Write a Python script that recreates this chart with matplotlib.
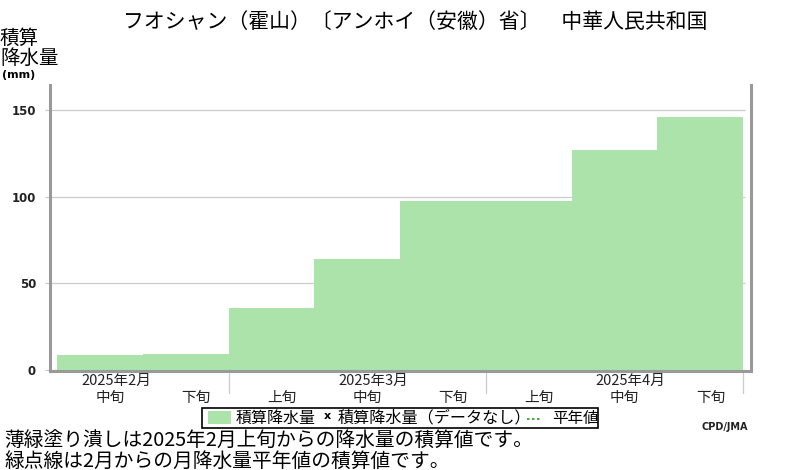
import matplotlib
matplotlib.use('Agg')
import matplotlib.pyplot as plt
import matplotlib.transforms as mtransforms
from matplotlib.patches import Rectangle
from matplotlib.lines import Line2D

plt.rcParams['font.family'] = ['Noto Sans CJK JP', 'DejaVu Sans']

# accumulated precipitation per dekad (mm)
dekads = ['中旬', '下旬', '上旬', '中旬', '下旬', '上旬', '中旬', '下旬']
months = ['2025年2月', '2025年3月', '2025年4月']
month_pos = [0, 3, 6]          # dekad index under which the month label sits
month_bounds = [2, 5, 8]
accum = [8.6, 9.4, 35.8, 64.0, 97.5, 97.6, 126.9, 145.9]
yticks = [0, 50, 100, 150]

W, H = 800, 470
fig = plt.figure(figsize=(W / 100, H / 100), dpi=100)

def fx(px):
    return px / W

def fy(py):
    return 1 - py / H

ax = fig.add_axes([fx(50), fy(371), fx(751) - fx(50), fy(85) - fy(371)])
ax.bar(range(len(accum)), accum, width=1.0, align='edge', color='#abe3aa', zorder=2)
ax.set_xlim(-0.082, 8.093)
ax.set_ylim(-0.6, 164.4)

gray = '#999999'
for s in ['left', 'bottom', 'right']:
    ax.spines[s].set_color(gray)
    ax.spines[s].set_linewidth(2.2)
ax.spines['top'].set_visible(False)

ax.hlines(yticks, -0.14, 8.02, color='#cccccc', linewidth=0.9, zorder=0, clip_on=False)

ax.set_xticks([])
ax.set_yticks(yticks)
ax.set_yticklabels([str(v) for v in yticks], fontfamily='DejaVu Sans', fontweight='bold', fontsize=8.5, color='#222222')
ax.tick_params(axis='y', length=0, pad=10)

trans = mtransforms.blended_transform_factory(ax.transData, fig.transFigure)
for i, lab in enumerate(dekads):
    ax.text(i + 0.5 + 0.12, fy(398), lab, transform=trans, ha='center', va='center', fontsize=10.5, color='#222222')
for p, lab in zip(month_pos, months):
    ax.text(p + 0.5 + 0.19, fy(381), lab, transform=trans, ha='center', va='center', fontsize=10.5, color='#222222')
for b in month_bounds:
    ax.add_line(Line2D([b, b], [fy(372), fy(393)], transform=trans, color='#cccccc', linewidth=0.9, clip_on=False))

# title and axis label
fig.text(fx(415), fy(22), 'フオシャン（霍山）〔アンホイ（安徽）省〕　中華人民共和国', ha='center', va='center', fontsize=15)
fig.text(fx(0), fy(48), '積算\n降水量', ha='left', va='center', fontsize=14, linespacing=0.95)
fig.text(fx(2), fy(75), '(mm)', ha='left', va='center', fontsize=8, fontweight='bold', fontfamily='DejaVu Sans')

# legend
fig.add_artist(Rectangle((fx(202), fy(428)), fx(598) - fx(202), fy(408) - fy(428), transform=fig.transFigure,
                         facecolor='white', edgecolor='black', linewidth=1.2))
fig.add_artist(Rectangle((fx(208), fy(424)), fx(231) - fx(208), fy(411) - fy(424), transform=fig.transFigure,
                         facecolor='#abe3aa', edgecolor='none'))
fig.text(fx(236), fy(418), '積算降水量', ha='left', va='center', fontsize=11.5)
fig.text(fx(327), fy(416), 'x', ha='center', va='center', fontsize=8, fontweight='bold', fontfamily='DejaVu Sans')
fig.text(fx(338), fy(418), '積算降水量（データなし）', ha='left', va='center', fontsize=11.6)
fig.add_artist(Line2D([fx(527), fx(541)], [fy(419), fy(419)], transform=fig.transFigure,
                      color='#229922', linewidth=1.2, linestyle=(0, (1.5, 1.5))))
fig.text(fx(552), fy(418), '平年値', ha='left', va='center', fontsize=11.2)

fig.text(fx(748), fy(427), 'CPD/JMA', ha='right', va='center', fontsize=7, fontweight='bold', fontfamily='DejaVu Sans', color='#222222')

# notes
fig.text(fx(4), fy(441), '薄緑塗り潰しは2025年2月上旬からの降水量の積算値です。', ha='left', va='center', fontsize=14.2)
fig.text(fx(4), fy(461), '緑点線は2月からの月降水量平年値の積算値です。', ha='left', va='center', fontsize=14.2)

fig.savefig('out.png', dpi=100)
